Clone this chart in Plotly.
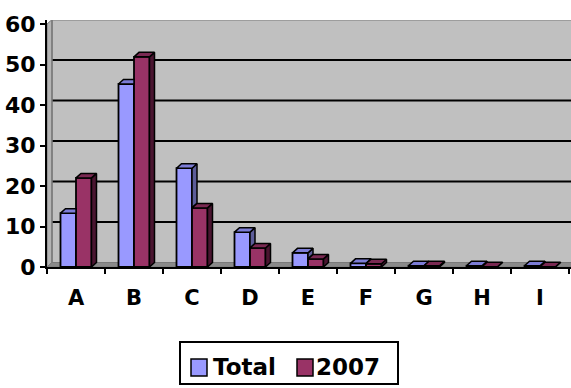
import plotly.graph_objects as go

# ---- data ----
categories = ["A", "B", "C", "D", "E", "F", "G", "H", "I"]
total = [13.3, 45.2, 24.4, 8.6, 3.5, 0.9, 0.3, 0.3, 0.3]
y2007 = [22.0, 51.9, 14.6, 4.7, 2.0, 0.8, 0.3, 0.05, 0.05]
series_names = ["Total", "2007"]
y_ticks = [0, 10, 20, 30, 40, 50, 60]

# ---- geometry / style ----
W, H = 571, 388
ML, MR, MT, MB = 47, 0, 20, 121
plot_w, plot_h = W - ML - MR, H - MT - MB
cat_px = 58.0                      # pixels per category
x_lo = -0.5
x_hi = x_lo + plot_w / cat_px
y_hi = 61.0
px_per_unit = plot_h / y_hi
dx = 5.0 / cat_px                  # depth offset (x) in data units
dy = 4.5 / px_per_unit             # depth offset (y) in data units
bw = 15.5 / cat_px                 # bar width

FONT = "DejaVu Sans, Liberation Sans, Arial, sans-serif"
C_TOTAL, C_TOTAL_TOP, C_TOTAL_SIDE = "#9999FF", "#7C7CD6", "#5C5C99"
C_2007, C_2007_TOP, C_2007_SIDE = "#993366", "#7A2952", "#4A1530"
WALL, FLOOR, EDGE = "#C0C0C0", "#8A8A8A", "#7A7A7A"

idx = list(range(len(categories)))


def poly(pts):
    xs, ys = [], []
    for (x, y) in pts:
        xs.append(x)
        ys.append(y)
    xs.append(pts[0][0])
    ys.append(pts[0][1])
    return xs, ys


# top / side faces built from the values
tot_top_x, tot_top_y, tot_side_x, tot_side_y = [], [], [], []
n7_top_x, n7_top_y, n7_side_x, n7_side_y = [], [], [], []
for i, (v1, v2) in enumerate(zip(total, y2007)):
    x0, x1, x2 = i - bw, i, i + bw
    # Total: the part of its top/side not hidden by the 2007 bar
    if v1 >= v2:
        top = [(x0, v1), (x0 + dx, v1 + dy), (x1 + dx, v1 + dy), (x1, v1)]
        side = [(x1, v2), (x1, v1), (x1 + dx, v1 + dy), (x1 + dx, v2 + dy)]
        xs, ys = poly(side)
        tot_side_x += xs + [None]
        tot_side_y += ys + [None]
    else:
        yv = min(v2, v1 + dy)
        xc = x1 + (v1 + dy - yv) * dx / dy
        top = [(x0, v1), (x0 + dx, v1 + dy), (xc, v1 + dy), (x1, yv), (x1, v1)]
    xs, ys = poly(top)
    tot_top_x += xs + [None]
    tot_top_y += ys + [None]
    # 2007: full top and side faces
    top = [(x1, v2), (x1 + dx, v2 + dy), (x2 + dx, v2 + dy), (x2, v2)]
    side = [(x2, 0), (x2, v2), (x2 + dx, v2 + dy), (x2 + dx, dy)]
    xs, ys = poly(top)
    n7_top_x += xs + [None]
    n7_top_y += ys + [None]
    xs, ys = poly(side)
    n7_side_x += xs + [None]
    n7_side_y += ys + [None]

fig = go.Figure()
edge = dict(color="black", width=1.8)

fig.add_trace(go.Bar(x=idx, y=total, name=series_names[0], width=bw, offset=-bw,
                     marker=dict(color=C_TOTAL, line=edge)))
fig.add_trace(go.Bar(x=idx, y=y2007, name=series_names[1], width=bw, offset=0,
                     marker=dict(color=C_2007, line=edge)))
for xs, ys, col in [(tot_side_x, tot_side_y, C_TOTAL_SIDE),
                    (tot_top_x, tot_top_y, C_TOTAL_TOP),
                    (n7_side_x, n7_side_y, C_2007_SIDE),
                    (n7_top_x, n7_top_y, C_2007_TOP)]:
    fig.add_trace(go.Scatter(x=xs, y=ys, mode="lines", fill="toself", fillcolor=col,
                             line=dict(color="black", width=1.5), hoverinfo="skip"))

shapes = []
# back wall, side wall, floor
shapes.append(dict(type="rect", xref="x", yref="y", x0=x_lo + dx, x1=x_hi + 1,
                   y0=dy, y1=y_ticks[-1] + dy, fillcolor=WALL, line=dict(width=0), layer="below"))
shapes.append(dict(type="path", xref="x", yref="y", layer="below",
                   path=f"M{x_lo},0 L{x_lo},{y_ticks[-1]} L{x_lo + dx},{y_ticks[-1] + dy} L{x_lo + dx},{dy} Z",
                   fillcolor="#B4B4B4", line=dict(color=EDGE, width=1)))
shapes.append(dict(type="path", xref="x", yref="y", layer="below",
                   path=f"M{x_lo},0 L{x_lo + dx},{dy} L{x_hi + 1},{dy} L{x_hi + 1},0 Z",
                   fillcolor=FLOOR, line=dict(color=EDGE, width=1)))
# gridlines on the back wall
for v in y_ticks[1:-1]:
    shapes.append(dict(type="line", xref="x", yref="y", layer="below",
                       x0=x_lo + dx, x1=x_hi + 1, y0=v + dy, y1=v + dy,
                       line=dict(color="black", width=2)))
shapes.append(dict(type="line", xref="x", yref="y", layer="below",
                   x0=x_lo + dx, x1=x_hi + 1, y0=y_ticks[-1] + dy, y1=y_ticks[-1] + dy,
                   line=dict(color=EDGE, width=2)))
shapes.append(dict(type="line", xref="x", yref="y", layer="below",
                   x0=x_lo + dx, x1=x_lo + dx, y0=dy, y1=y_ticks[-1] + dy,
                   line=dict(color=EDGE, width=1.5)))


# legend box
def px(x):
    return (x - ML) / plot_w


def py(y):
    return (H - MB - y) / plot_h


shapes.append(dict(type="rect", xref="paper", yref="paper", x0=px(180), x1=px(398),
                   y0=py(384), y1=py(342), fillcolor="white", line=dict(color="black", width=2)))
annotations = []
for (sx, tx, col, name) in [(191, 211, C_TOTAL, series_names[0]), (297, 314, C_2007, series_names[1])]:
    shapes.append(dict(type="rect", xref="paper", yref="paper", x0=px(sx), x1=px(sx + 16),
                       y0=py(376), y1=py(359), fillcolor=col, line=dict(color="black", width=1.5)))
    annotations.append(dict(xref="paper", yref="paper", x=px(tx), y=py(367), xanchor="left",
                            yanchor="middle", showarrow=False, text=name,
                            font=dict(family=FONT, size=23, color="black", weight="bold")))

fig.update_layout(
    width=W, height=H, margin=dict(l=ML, r=MR, t=MT, b=MB),
    paper_bgcolor="white", plot_bgcolor="white",
    barmode="overlay", showlegend=False,
    shapes=shapes, annotations=annotations,
    xaxis=dict(range=[x_lo, x_hi], tickvals=idx, ticktext=categories,
               ticks="", showgrid=False, zeroline=False,
               showline=True, linecolor="black", linewidth=2,
               ticklabelstandoff=11,
               tickfont=dict(family=FONT, size=21, color="black", weight="bold"),
               minor=dict(tickvals=[x_lo + k for k in range(len(categories) + 1)],
                          ticks="outside", ticklen=5, tickwidth=1.5, tickcolor="black",
                          showgrid=False)),
    yaxis=dict(range=[0, y_hi], tickvals=y_ticks, ticks="outside", ticklen=5,
               tickwidth=1.5, tickcolor="black", showgrid=False, zeroline=False,
               showline=True, linecolor="black", linewidth=2,
               tickfont=dict(family=FONT, size=22, color="black", weight="bold")),
)

fig.write_html("out.html")
